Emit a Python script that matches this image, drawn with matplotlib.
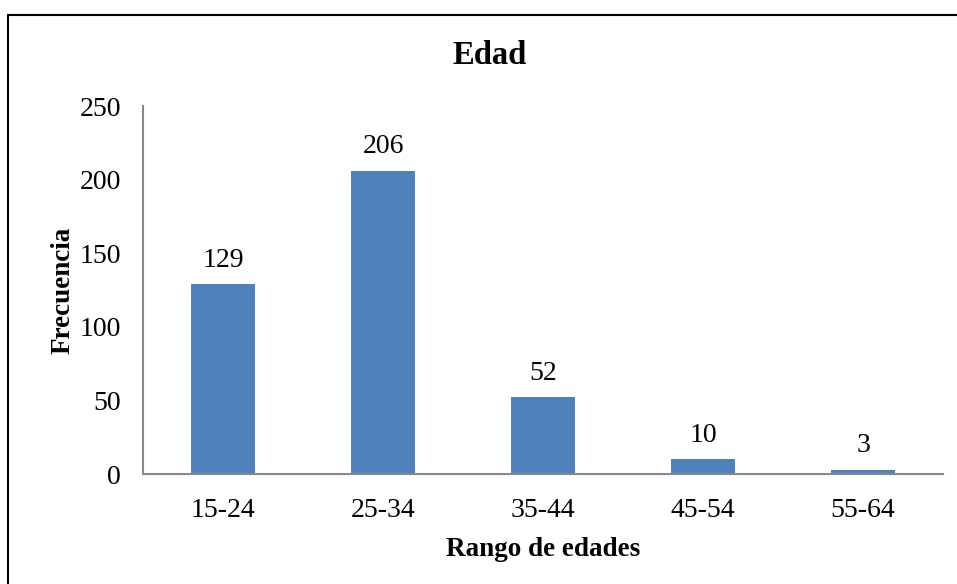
import matplotlib
matplotlib.use("Agg")
import matplotlib.pyplot as plt
from matplotlib.patches import Rectangle

categories = ["15-24", "25-34", "35-44", "45-54", "55-64"]
values = [129, 206, 52, 10, 3]
yticks = [0, 50, 100, 150, 200, 250]

plt.rcParams['font.family'] = ['Liberation Serif', 'DejaVu Serif']

W, H = 957, 584
fig = plt.figure(figsize=(W / 100, H / 100), dpi=100)
ax = fig.add_axes([143 / W, 1 - 474 / H, 800 / W, 368 / H])

x = list(range(len(categories)))
ax.bar(x, values, width=0.4, color="#4F81BD", zorder=2)
for xi, v in zip(x, values):
    ax.annotate(str(v), (xi, v), xytext=(0, 12.5), textcoords="offset points",
                ha="center", va="baseline", fontsize=20)

ax.set_xlim(-0.5, len(categories) - 0.5)
ax.set_ylim(0, 250)
ax.set_yticks(yticks)
ax.set_yticklabels([str(t) for t in yticks], fontsize=20)
ax.set_xticks(x)
ax.set_xticklabels(categories, fontsize=20)
ax.tick_params(axis="both", length=0)
ax.tick_params(axis="y", pad=16)
ax.tick_params(axis="x", pad=17)
for s in ["top", "right"]:
    ax.spines[s].set_visible(False)
for s in ["left", "bottom"]:
    ax.spines[s].set_color("#888888")
    ax.spines[s].set_linewidth(1.5)

ax.set_xlabel("Rango de edades", fontsize=19.5, fontweight="bold", labelpad=10.5)
ax.set_ylabel("Frecuencia", fontsize=19.5, fontweight="bold", labelpad=3)
fig.text(490 / W, 1 - 56 / H, "Edad", ha="center", va="center", fontsize=23.5, fontweight="bold")

fig.patches.append(Rectangle((8 / W, -0.1), 1.2, 1 - 15 / H + 0.1, transform=fig.transFigure,
                             fill=False, edgecolor="black", linewidth=1.5))

fig.savefig("out.png", dpi=100)
